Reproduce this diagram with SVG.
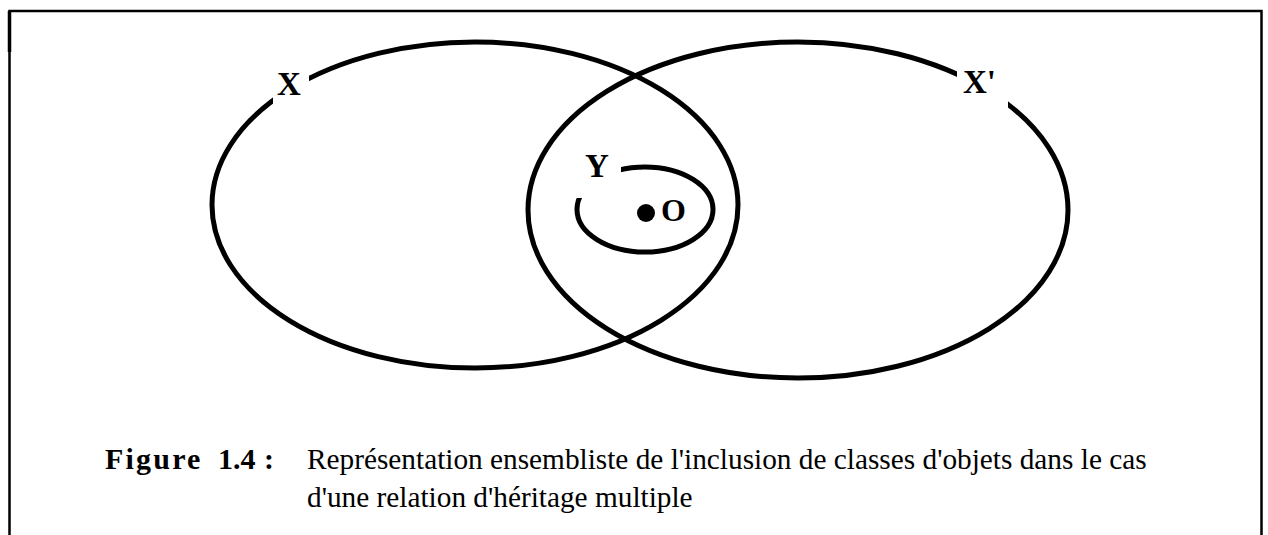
<svg xmlns="http://www.w3.org/2000/svg" width="1268" height="535" viewBox="0 0 1268 535">
<style>
.set{fill:none;stroke:#000;stroke-width:5}
.lbl{font-family:"Liberation Serif","Times New Roman",serif;font-weight:bold;fill:#000}
.cap{font-family:"Liberation Serif","Times New Roman",serif;fill:#000;font-size:29.3px}
.fig{font-family:"Liberation Serif","Times New Roman",serif;fill:#000;font-size:30px;font-weight:bold}
</style>
<defs>
<mask id="mX" maskUnits="userSpaceOnUse" x="0" y="0" width="1268" height="535">
<rect x="0" y="0" width="1268" height="535" fill="#fff"/>
<rect x="273" y="45" width="36" height="75" fill="#000"/>
</mask>
<mask id="mX2" maskUnits="userSpaceOnUse" x="0" y="0" width="1268" height="535">
<rect x="0" y="0" width="1268" height="535" fill="#fff"/>
<rect x="957" y="35" width="51" height="77" fill="#000"/>
</mask>
<mask id="mY" maskUnits="userSpaceOnUse" x="0" y="0" width="1268" height="535">
<rect x="0" y="0" width="1268" height="535" fill="#fff"/>
<rect x="565" y="140" width="56" height="58" fill="#000"/>
</mask>
</defs>
<rect x="0" y="0" width="1268" height="535" fill="#fff"/>
<rect id="frame" x="9.5" y="11" width="1252" height="560" fill="none" stroke="#000" stroke-width="2.5"/>
<path d="M9.5 11 V 52" stroke="#000" stroke-width="3.5" fill="none"/>
<g id="connectors"></g>
<g id="setX">
<ellipse class="set" mask="url(#mX)" cx="475" cy="205" rx="263" ry="163"/>
<text class="lbl" x="277" y="95" font-size="33">X</text>
</g>
<g id="setX2">
<ellipse class="set" mask="url(#mX2)" cx="798" cy="210" rx="270" ry="168"/>
<text class="lbl" x="963" y="93" font-size="33">X'</text>
</g>
<g id="setY">
<ellipse class="set" stroke-width="4" mask="url(#mY)" cx="645" cy="209.5" rx="68" ry="42.5"/>
<text class="lbl" x="585" y="177" font-size="33">Y</text>
</g>
<g id="objO">
<circle cx="646" cy="213" r="9" fill="#000"/>
<text class="lbl" x="661" y="221" font-size="32">O</text>
</g>
<g id="caption">
<text class="fig" x="105" y="469" letter-spacing="2.2">Figure</text>
<text class="fig" x="218" y="469">1.4</text>
<text class="fig" x="264" y="469">:</text>
<text class="cap" x="307" y="469">Représentation ensembliste de l'inclusion de classes d'objets dans le cas</text>
<text class="cap" x="307" y="507">d'une relation d'héritage multiple</text>
</g>
</svg>
